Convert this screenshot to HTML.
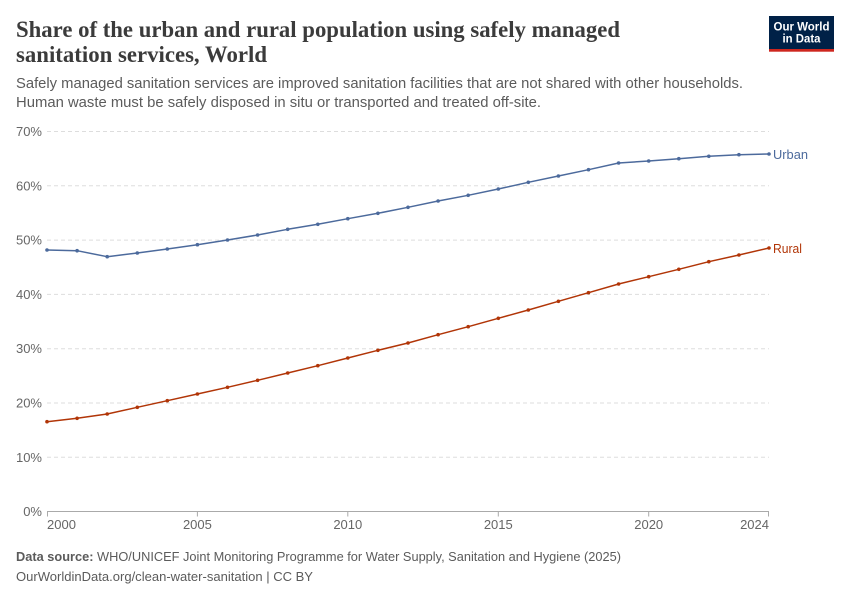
<!DOCTYPE html>
<html>
<head>
<meta charset="utf-8">
<style>
  html, body { margin: 0; padding: 0; background: #fff; }
  svg { display: block; }
  .sans { font-family: "Liberation Sans", "DejaVu Sans", sans-serif; }
  .serif { font-family: "Liberation Serif", "DejaVu Serif", serif; }
</style>
</head>
<body>
<svg width="850" height="600" viewBox="0 0 850 600" xmlns="http://www.w3.org/2000/svg" class="sans">
  <defs>
    <marker id="mu" viewBox="0 0 4 4" refX="2" refY="2" markerWidth="4" markerHeight="4" markerUnits="userSpaceOnUse">
      <circle cx="2" cy="2" r="1.8" fill="#4c6a9c"/>
    </marker>
    <marker id="mr" viewBox="0 0 4 4" refX="2" refY="2" markerWidth="4" markerHeight="4" markerUnits="userSpaceOnUse">
      <circle cx="2" cy="2" r="1.8" fill="#b13507"/>
    </marker>
  </defs>

  <!-- Title -->
  <text class="serif" x="16" y="37" font-weight="bold" font-size="23" fill="#3b3b3b" textLength="604" lengthAdjust="spacingAndGlyphs">Share of the urban and rural population using safely managed</text>
  <text class="serif" x="16" y="62" font-weight="bold" font-size="23" fill="#3b3b3b" textLength="251" lengthAdjust="spacingAndGlyphs">sanitation services, World</text>

  <!-- Subtitle -->
  <text x="16" y="88" font-size="15" fill="#5b5b5b" textLength="727" lengthAdjust="spacingAndGlyphs">Safely managed sanitation services are improved sanitation facilities that are not shared with other households.</text>
  <text x="16" y="107" font-size="15" fill="#5b5b5b" textLength="525" lengthAdjust="spacingAndGlyphs">Human waste must be safely disposed in situ or transported and treated off-site.</text>

  <!-- Logo -->
  <rect x="769" y="16" width="65" height="34" fill="#002147"/>
  <rect x="769" y="49" width="65" height="2.7" fill="#ce261e"/>
  <text x="801.5" y="30.7" font-size="12" font-weight="bold" fill="#fff" text-anchor="middle" textLength="56" lengthAdjust="spacingAndGlyphs">Our World</text>
  <text x="801.5" y="42.7" font-size="12" font-weight="bold" fill="#fff" text-anchor="middle" textLength="38" lengthAdjust="spacingAndGlyphs">in Data</text>

  <!-- Grid -->
  <g stroke="#dddddd" stroke-width="1" stroke-dasharray="4,3">
    <line x1="47" y1="131.5" x2="769" y2="131.5"/>
    <line x1="47" y1="185.8" x2="769" y2="185.8"/>
    <line x1="47" y1="240.1" x2="769" y2="240.1"/>
    <line x1="47" y1="294.4" x2="769" y2="294.4"/>
    <line x1="47" y1="348.7" x2="769" y2="348.7"/>
    <line x1="47" y1="403" x2="769" y2="403"/>
    <line x1="47" y1="457.3" x2="769" y2="457.3"/>
  </g>

  <!-- Y labels -->
  <g font-size="13" fill="#666" text-anchor="end">
    <text x="42" y="136">70%</text>
    <text x="42" y="190.3">60%</text>
    <text x="42" y="244.6">50%</text>
    <text x="42" y="298.9">40%</text>
    <text x="42" y="353.2">30%</text>
    <text x="42" y="407.5">20%</text>
    <text x="42" y="461.8">10%</text>
    <text x="42" y="516">0%</text>
  </g>

  <!-- X axis -->
  <line x1="47" y1="511.5" x2="769" y2="511.5" stroke="#aaaaaa" stroke-width="1"/>
  <g stroke="#aaaaaa" stroke-width="1">
    <line x1="47.5" y1="511.5" x2="47.5" y2="516.5"/>
    <line x1="197.4" y1="511.5" x2="197.4" y2="516.5"/>
    <line x1="347.8" y1="511.5" x2="347.8" y2="516.5"/>
    <line x1="498.3" y1="511.5" x2="498.3" y2="516.5"/>
    <line x1="648.7" y1="511.5" x2="648.7" y2="516.5"/>
    <line x1="768.5" y1="511.5" x2="768.5" y2="516.5"/>
  </g>
  <g font-size="13" fill="#666">
    <text x="47" y="529">2000</text>
    <text x="197.4" y="529" text-anchor="middle">2005</text>
    <text x="347.8" y="529" text-anchor="middle">2010</text>
    <text x="498.3" y="529" text-anchor="middle">2015</text>
    <text x="648.7" y="529" text-anchor="middle">2020</text>
    <text x="769" y="529" text-anchor="end">2024</text>
  </g>

  <!-- Urban -->
  <polyline fill="none" stroke="#4c6a9c" stroke-width="1.5" stroke-linejoin="round"
    marker-start="url(#mu)" marker-mid="url(#mu)" marker-end="url(#mu)"
    points="47,250 77.1,250.7 107.2,256.7 137.3,253 167.3,249 197.4,244.7 227.5,240 257.6,235 287.7,229.3 317.8,224.3 347.8,218.7 377.9,213.3 408,207.3 438.1,201 468.2,195.3 498.3,189 528.3,182.3 558.4,176 588.5,169.7 618.6,163 648.7,161 678.8,158.7 708.8,156.3 738.9,154.7 769,154"/>
  <!-- Rural -->
  <polyline fill="none" stroke="#b13507" stroke-width="1.5" stroke-linejoin="round"
    marker-start="url(#mr)" marker-mid="url(#mr)" marker-end="url(#mr)"
    points="47,421.7 77.1,418.3 107.2,414 137.3,407.3 167.3,400.7 197.4,394 227.5,387.3 257.6,380.3 287.7,373 317.8,365.7 347.8,358 377.9,350.3 408,343 438.1,334.7 468.2,326.7 498.3,318.3 528.3,310 558.4,301.3 588.5,292.7 618.6,284 648.7,276.7 678.8,269.3 708.8,261.7 738.9,255 769,248"/>

  <!-- Series labels -->
  <text x="773" y="159" font-size="13" fill="#4c6a9c" textLength="35" lengthAdjust="spacingAndGlyphs">Urban</text>
  <text x="773" y="253" font-size="13" fill="#b13507" textLength="29" lengthAdjust="spacingAndGlyphs">Rural</text>

  <!-- Footer -->
  <text x="16" y="561" font-size="13" fill="#5b5b5b" textLength="605" lengthAdjust="spacingAndGlyphs"><tspan font-weight="bold">Data source:</tspan> WHO/UNICEF Joint Monitoring Programme for Water Supply, Sanitation and Hygiene (2025)</text>
  <text x="16" y="581" font-size="13" fill="#5b5b5b" textLength="297" lengthAdjust="spacingAndGlyphs">OurWorldinData.org/clean-water-sanitation | CC BY</text>
</svg>
</body>
</html>
